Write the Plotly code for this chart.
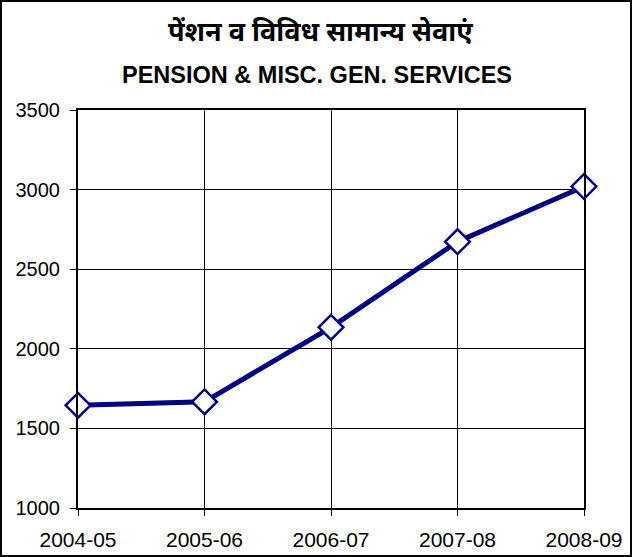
import plotly.graph_objects as go

years = ["2004-05", "2005-06", "2006-07", "2007-08", "2008-09"]
values = [1645, 1667, 2135, 2673, 3020]
y_ticks = [1000, 1500, 2000, 2500, 3000, 3500]

title_hi = "पेंशन व विविध सामान्य सेवाएं"
title_en = "PENSION & MISC. GEN. SERVICES"

W, H = 632, 557
L, R, T, B = 78, 48, 110, 49
pw, ph = W - L - R, H - T - B

fig = go.Figure()
fig.add_trace(go.Scatter(
    x=list(range(len(years))), y=values, mode="lines+markers",
    line=dict(color="#000080", width=5),
    marker=dict(symbol="diamond", size=19, color="white",
                line=dict(color="#000080", width=2.5)),
    cliponaxis=False, showlegend=False,
))

fig.update_layout(
    width=W, height=H,
    margin=dict(l=L, r=R, t=T, b=B, autoexpand=False),
    paper_bgcolor="white", plot_bgcolor="white",
    font=dict(family="Liberation Sans, Arial, sans-serif", color="black", size=20),
)
fig.update_xaxes(
    range=[0, len(years) - 1], tickvals=list(range(len(years))), ticktext=years,
    showgrid=True, gridcolor="black", gridwidth=1,
    showline=True, linecolor="black", linewidth=2, mirror=True,
    ticks="outside", ticklen=6, tickcolor="black", zeroline=False,
    tickfont=dict(size=21), ticklabelstandoff=6, automargin=False,
)
fig.update_yaxes(
    range=[1000, 3500], tickvals=y_ticks,
    showgrid=True, gridcolor="black", gridwidth=1,
    showline=True, linecolor="black", linewidth=2, mirror=True,
    ticks="outside", ticklen=6, tickcolor="black", zeroline=False,
    tickfont=dict(size=20), ticklabelstandoff=6, automargin=False,
)

def px(x):
    return (x - L) / pw

def py(y):
    return (H - B - y) / ph

fig.add_annotation(text="<b>" + title_hi + "</b>", xref="paper", yref="paper",
                   x=px(W / 2 + 4), y=py(31), showarrow=False,
                   xanchor="center", yanchor="middle",
                   font=dict(size=27, family="Noto Sans, Lato, sans-serif"))
fig.add_annotation(text="<b>" + title_en + "</b>", xref="paper", yref="paper",
                   x=px(W / 2 + 1), y=py(75), showarrow=False,
                   xanchor="center", yanchor="middle",
                   font=dict(size=23.5, family="Liberation Sans, Arial, sans-serif"))

fig.add_shape(type="rect", xref="paper", yref="paper",
              x0=px(1), x1=px(W - 1), y0=py(H - 1), y1=py(1),
              line=dict(color="black", width=2), layer="above")

fig.write_html("out.html", config={"displayModeBar": False},
               post_script="document.body.style.margin='0';")
